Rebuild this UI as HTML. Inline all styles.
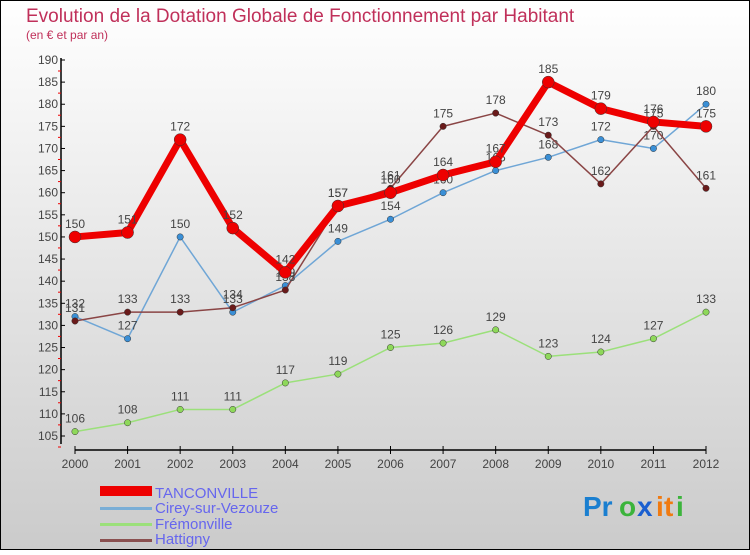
<!DOCTYPE html>
<html><head><meta charset="utf-8">
<style>
html,body{margin:0;padding:0}
body{width:750px;height:550px;overflow:hidden;font-family:"Liberation Sans",sans-serif}
svg text{font-family:"Liberation Sans",sans-serif}
</style></head>
<body>
<svg id="chart" width="750" height="550" xmlns="http://www.w3.org/2000/svg">
<defs>
<linearGradient id="bg" x1="0" y1="0" x2="0" y2="1">
<stop offset="0" stop-color="#ffffff"/><stop offset="1" stop-color="#cbcbcb"/>
</linearGradient>
</defs>
<rect x="0.5" y="0.5" width="749" height="549" fill="url(#bg)" stroke="#000"/>
<text x="26" y="22" font-size="19" fill="#c0305a">Evolution de la Dotation Globale de Fonctionnement par Habitant</text>
<text x="26" y="39" font-size="12" fill="#c0305a">(en € et par an)</text>
<g id="axes"></g>
<g id="series"></g>
<g id="legend">
<rect x="100" y="486" width="52" height="10" fill="#e00"/>
<text x="155" y="498" font-size="15" fill="#6666ee">TANCONVILLE</text>
<rect x="100" y="507" width="52" height="3" fill="#7aaed6"/>
<text x="155" y="513" font-size="15" fill="#6666ee">Cirey-sur-Vezouze</text>
<rect x="100" y="523" width="52" height="3" fill="#9be07a"/>
<text x="155" y="529" font-size="15" fill="#6666ee">Frémonville</text>
<rect x="100" y="539" width="52" height="3" fill="#8a5050"/>
<text x="155" y="544" font-size="15" fill="#6666ee">Hattigny</text>
</g>
<g font-size="28" font-weight="bold">
<text x="583" y="516" fill="#1a7fd0">Pr</text><text x="619" y="516" fill="#3cb43c">o</text><text x="637" y="516" fill="#1a5fd0">x</text><text x="656" y="516" fill="#f07a10">i</text><text x="664" y="516" fill="#f07a10">t</text><text x="676" y="516" fill="#3cb43c">i</text>
</g>
</svg>
<script>
const years=["2000","2001","2002","2003","2004","2005","2006","2007","2008","2009","2010","2011","2012"];
const tanconville=[150,151,172,152,142,157,160,164,167,185,179,176,175];
const cirey=[132,127,150,133,139,149,154,160,165,168,172,170,180];
const fremonville=[106,108,111,111,117,119,125,126,129,123,124,127,133];
const hattigny=[131,133,133,134,138,157,161,175,178,173,162,175,161];
const yTicks=[105,110,115,120,125,130,135,140,145,150,155,160,165,170,175,180,185,190];

const NS="http://www.w3.org/2000/svg";
const X0=75,X1=706,YMIN=105,YMAX=190,PY0=436,PY1=60;
function xs(i){return X0+(X1-X0)*i/(years.length-1);}
function ys(v){return PY0+(v-YMIN)*(PY1-PY0)/(YMAX-YMIN);}
function mk(tag,attrs,parent){const e=document.createElementNS(NS,tag);for(const k in attrs)e.setAttribute(k,attrs[k]);parent.appendChild(e);return e;}

const axes=document.getElementById('axes');
let yl=mk('line',{x1:61,y1:58,x2:61,y2:444,stroke:'#000','stroke-width':1.5},axes);


yTicks.forEach(v=>{
  const y=ys(v);
  let t=mk('line',{x1:61,y1:y,x2:65,y2:y,stroke:'#000'},axes);
  
  
  let r=mk('line',{x1:58,y1:y+11,x2:61,y2:y+11,stroke:'#e00'},axes);
  
  
  let l=mk('text',{x:58,y:y+4,'font-size':12,fill:'#444','text-anchor':'end'},axes);
  l.textContent=v;
  
  
});
let xl=mk('line',{x1:75,y1:450,x2:706,y2:450,stroke:'#000','stroke-width':1.5},axes);


years.forEach((yr,i)=>{
  const x=xs(i);
  let t=mk('line',{x1:x,y1:446,x2:x,y2:454,stroke:'#000'},axes);
  
  
  let l=mk('text',{x:x,y:468,'font-size':12,fill:'#444','text-anchor':'middle'},axes);
  l.textContent=yr;
  
  
});

const sg=document.getElementById('series');
function drawSeries(vals,color,width,dotFill,dotR,name){
  const g=mk('g',{},sg);
  
  
  const pts=vals.map((v,i)=>xs(i)+','+ys(v)).join(' ');
  const pl=mk('polyline',{points:pts,fill:'none',stroke:color,'stroke-width':width,'stroke-linejoin':'round','stroke-linecap':'round'},g);
  
  
  vals.forEach((v,i)=>{
    const c=mk('circle',{cx:xs(i),cy:ys(v),r:dotR,fill:dotFill,stroke:'#333','stroke-width':0.5},g);
    
    
    const t=mk('text',{x:xs(i),y:ys(v)-9,'font-size':12,fill:'#444','text-anchor':'middle'},g);
    t.textContent=v;
    
    
  });
}
drawSeries(fremonville,'#9be07a',1.5,'#8ed85a',3.2,'fremonville');
drawSeries(cirey,'#6fa6d6',1.5,'#3a8fd6',3.2,'cirey');
drawSeries(hattigny,'#8a4545',1.5,'#6a1a1a',3.2,'hattigny');
drawSeries(tanconville,'#ee0000',7,'#ee0000',6,'tanconville');
</script>
</body></html>
